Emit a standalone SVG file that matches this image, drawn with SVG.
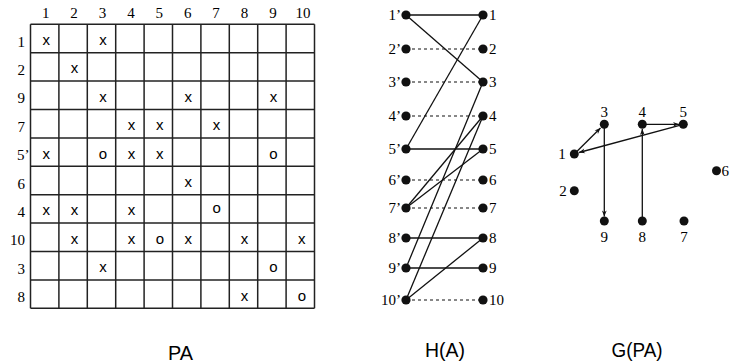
<svg xmlns="http://www.w3.org/2000/svg" width="730" height="364" viewBox="0 0 730 364">
<style>
.num{font-family:"Liberation Serif","Times New Roman",serif;font-size:15px;fill:#000}
.mk{font-family:"Liberation Sans",Arial,sans-serif;font-size:15px;fill:#000;text-anchor:middle}
.ttl{font-family:"Liberation Sans",Arial,sans-serif;font-size:20px;fill:#000;text-anchor:middle}
.grid line{stroke:#222;stroke-width:1.5}
.e{stroke:#111;stroke-width:1.3;fill:none}
.d{stroke:#111;stroke-width:1.2;stroke-dasharray:3 3;fill:none}
.dot{fill:#111}
</style>
<defs>
<marker id="ah" viewBox="0 0 10 10" refX="10" refY="5" markerWidth="8" markerHeight="6" orient="auto" markerUnits="userSpaceOnUse">
<path d="M0,1 L10,5 L0,9 L3,5 z" fill="#111"/>
</marker>
</defs>

<g id="matrix">
<g class="grid">
<line x1="30.5" y1="24.3" x2="314.5" y2="24.3"/><line x1="30.5" y1="52.7" x2="314.5" y2="52.7"/><line x1="30.5" y1="81.1" x2="314.5" y2="81.1"/><line x1="30.5" y1="109.5" x2="314.5" y2="109.5"/><line x1="30.5" y1="137.9" x2="314.5" y2="137.9"/><line x1="30.5" y1="166.3" x2="314.5" y2="166.3"/><line x1="30.5" y1="194.7" x2="314.5" y2="194.7"/><line x1="30.5" y1="223.1" x2="314.5" y2="223.1"/><line x1="30.5" y1="251.5" x2="314.5" y2="251.5"/><line x1="30.5" y1="279.9" x2="314.5" y2="279.9"/><line x1="30.5" y1="308.3" x2="314.5" y2="308.3"/>
<line x1="30.5" y1="24.3" x2="30.5" y2="308.3"/><line x1="58.9" y1="24.3" x2="58.9" y2="308.3"/><line x1="87.3" y1="24.3" x2="87.3" y2="308.3"/><line x1="115.7" y1="24.3" x2="115.7" y2="308.3"/><line x1="144.1" y1="24.3" x2="144.1" y2="308.3"/><line x1="172.5" y1="24.3" x2="172.5" y2="308.3"/><line x1="200.9" y1="24.3" x2="200.9" y2="308.3"/><line x1="229.3" y1="24.3" x2="229.3" y2="308.3"/><line x1="257.7" y1="24.3" x2="257.7" y2="308.3"/><line x1="286.1" y1="24.3" x2="286.1" y2="308.3"/><line x1="314.5" y1="24.3" x2="314.5" y2="308.3"/>
</g>
<g class="num" text-anchor="middle">
<text x="45.7" y="18.3">1</text><text x="74.1" y="18.3">2</text><text x="102.5" y="18.3">3</text><text x="130.9" y="18.3">4</text><text x="159.3" y="18.3">5</text><text x="187.7" y="18.3">6</text><text x="216.1" y="18.3">7</text><text x="244.5" y="18.3">8</text><text x="272.9" y="18.3">9</text><text x="303" y="18.3">10</text>
</g>
<g class="num" text-anchor="end">
<text x="25" y="46.5">1</text><text x="25" y="74.9">2</text><text x="25" y="103.3">9</text><text x="25" y="131.7">7</text><text x="25" y="188.5">6</text><text x="25" y="216.9">4</text><text x="25" y="245.3">10</text><text x="25" y="273.7">3</text><text x="25" y="302.1">8</text>
</g>
<text class="num" x="17" y="160.1">5’</text>
<g class="mk">
<text x="46.2" y="45">x</text><text x="103" y="45">x</text>
<text x="74.6" y="73.4">x</text>
<text x="103" y="101.8">x</text><text x="188.2" y="101.8">x</text><text x="273.4" y="101.8">x</text>
<text x="131.4" y="130.2">x</text><text x="159.8" y="130.2">x</text><text x="216.6" y="130.2">x</text>
<text x="46.2" y="158.6">x</text><text x="103" y="158.6">o</text><text x="131.4" y="158.6">x</text><text x="159.8" y="158.6">x</text><text x="273.4" y="158.6">o</text>
<text x="188.2" y="187">x</text>
<text x="46.2" y="215.4">x</text><text x="74.6" y="215.4">x</text><text x="131.4" y="215.4">x</text><text x="216.6" y="212.5">o</text>
<text x="74.6" y="243.8">x</text><text x="131.4" y="243.8">x</text><text x="159.8" y="243.8">o</text><text x="188.2" y="243.8">x</text><text x="244.6" y="243.8">x</text><text x="301.8" y="243.8">x</text>
<text x="103" y="272.2">x</text><text x="273.4" y="272.2">o</text>
<text x="244.6" y="300.6">x</text><text x="301.8" y="300.6">o</text>
</g>
</g>

<g id="ha-edges">
<line class="e" x1="406" y1="15" x2="483" y2="15"/>
<line class="e" x1="406" y1="15" x2="483" y2="82"/>
<line class="d" x1="406" y1="49" x2="483" y2="49"/>
<line class="d" x1="406" y1="82" x2="483" y2="82"/>
<line class="d" x1="406" y1="116" x2="483" y2="116"/>
<line class="e" x1="406" y1="149" x2="483" y2="149"/>
<line class="e" x1="406" y1="149" x2="483" y2="15"/>
<line class="d" x1="406" y1="180" x2="483" y2="180"/>
<line class="d" x1="406" y1="208" x2="483" y2="208"/>
<line class="e" x1="406" y1="208" x2="483" y2="116"/>
<line class="e" x1="406" y1="208" x2="483" y2="149"/>
<line class="e" x1="406" y1="238" x2="483" y2="238"/>
<line class="e" x1="406" y1="268" x2="483" y2="268"/>
<line class="e" x1="406" y1="268" x2="483" y2="82"/>
<line class="e" x1="406" y1="300" x2="483" y2="116"/>
<line class="e" x1="406" y1="300" x2="483" y2="238"/>
<line class="d" x1="406" y1="300" x2="483" y2="300"/>
</g>
<g id="ha-left" class="num" text-anchor="end">
<circle class="dot" cx="406" cy="15" r="4.6"/><text x="401" y="20">1’</text>
<circle class="dot" cx="406" cy="49" r="4.6"/><text x="401" y="54">2’</text>
<circle class="dot" cx="406" cy="82" r="4.6"/><text x="401" y="87">3’</text>
<circle class="dot" cx="406" cy="116" r="4.6"/><text x="401" y="121">4’</text>
<circle class="dot" cx="406" cy="149" r="4.6"/><text x="401" y="154">5’</text>
<circle class="dot" cx="406" cy="180" r="4.6"/><text x="401" y="185">6’</text>
<circle class="dot" cx="406" cy="208" r="4.6"/><text x="401" y="213">7’</text>
<circle class="dot" cx="406" cy="238" r="4.6"/><text x="401" y="243">8’</text>
<circle class="dot" cx="406" cy="268" r="4.6"/><text x="401" y="273">9’</text>
<circle class="dot" cx="406" cy="300" r="4.6"/><text x="401" y="305">10’</text>
</g>
<g id="ha-right" class="num">
<circle class="dot" cx="483" cy="15" r="4.6"/><text x="489" y="20">1</text>
<circle class="dot" cx="483" cy="49" r="4.6"/><text x="489" y="54">2</text>
<circle class="dot" cx="483" cy="82" r="4.6"/><text x="489" y="87">3</text>
<circle class="dot" cx="483" cy="116" r="4.6"/><text x="489" y="121">4</text>
<circle class="dot" cx="483" cy="149" r="4.6"/><text x="489" y="154">5</text>
<circle class="dot" cx="483" cy="180" r="4.6"/><text x="489" y="185">6</text>
<circle class="dot" cx="483" cy="208" r="4.6"/><text x="489" y="213">7</text>
<circle class="dot" cx="483" cy="238" r="4.6"/><text x="489" y="243">8</text>
<circle class="dot" cx="483" cy="268" r="4.6"/><text x="489" y="273">9</text>
<circle class="dot" cx="483" cy="300" r="4.6"/><text x="489" y="305">10</text>
</g>

<g id="gpa-edges" class="e">
<line x1="574.3" y1="154" x2="600.5" y2="128" marker-end="url(#ah)"/>
<line x1="683.3" y1="124.3" x2="579" y2="152.5" marker-end="url(#ah)"/>
<line x1="642.3" y1="124.3" x2="679" y2="124.3" marker-end="url(#ah)"/>
<line x1="604.3" y1="124.3" x2="604.3" y2="216.5" marker-end="url(#ah)"/>
<line x1="642.3" y1="221" x2="642.3" y2="129" marker-end="url(#ah)"/>
</g>
<g id="gpa-nodes" class="num" text-anchor="middle">
<g id="g1"><circle class="dot" cx="574.3" cy="154" r="4.5"/><text x="562" y="159">1</text></g>
<g id="g2"><circle class="dot" cx="574.3" cy="190.7" r="4.5"/><text x="563" y="196">2</text></g>
<g id="g3"><circle class="dot" cx="604.3" cy="124.3" r="4.5"/><text x="604.3" y="116.7">3</text></g>
<g id="g4"><circle class="dot" cx="642.3" cy="124.3" r="4.5"/><text x="642.3" y="116.7">4</text></g>
<g id="g5"><circle class="dot" cx="683.3" cy="124.3" r="4.5"/><text x="683.3" y="116.7">5</text></g>
<g id="g6"><circle class="dot" cx="716.5" cy="170.7" r="4.5"/><text x="721.5" y="176" text-anchor="start">6</text></g>
<g id="g9"><circle class="dot" cx="604.3" cy="221" r="4.5"/><text x="604.3" y="241.7">9</text></g>
<g id="g8"><circle class="dot" cx="642.3" cy="221" r="4.5"/><text x="642.3" y="241.7">8</text></g>
<g id="g7"><circle class="dot" cx="684" cy="221" r="4.5"/><text x="684" y="241.7">7</text></g>
</g>

<g id="titles" class="ttl">
<text x="180.5" y="360" textLength="25" lengthAdjust="spacingAndGlyphs">PA</text>
<text x="445" y="357" textLength="40" lengthAdjust="spacingAndGlyphs">H(A)</text>
<text x="637" y="357" textLength="51" lengthAdjust="spacingAndGlyphs">G(PA)</text>
</g>
</svg>
